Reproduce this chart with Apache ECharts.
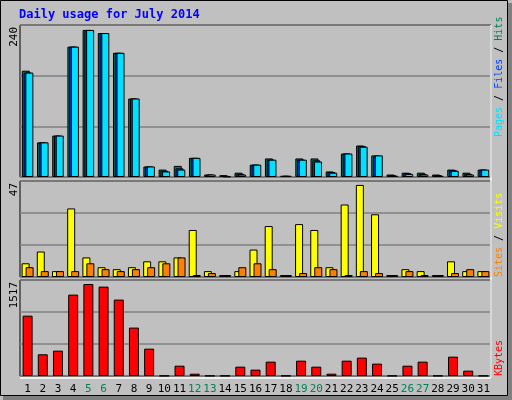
<!DOCTYPE html>
<html><head><meta charset="utf-8">
<script src="https://cdn.jsdelivr.net/npm/echarts@6/dist/echarts.min.js"></script>
<style>html,body{margin:0;padding:0;background:#c0c0c0}#c{width:512px;height:400px}</style>
</head><body><div id="c"></div>
<script>
const days = ['1','2','3','4','5','6','7','8','9','10','11','12','13','14','15','16','17','18','19','20','21','22','23','24','25','26','27','28','29','30','31'];
const weekend = ['5','6','12','13','19','20','26','27'];
const hits  = [172,56,67,211,238,233,201,127,17,12,18,31,4,3,7,20,30,2,30,30,9,38,51,35,4,7,7,4,12,7,12];
const files = [169,56,67,211,238,233,201,127,17,10,14,31,4,2,5,20,28,2,28,27,8,38,50,33,3,6,5,3,11,5,12];
const pages = [169,56,67,211,238,233,201,127,17,9,12,31,4,1,4,20,28,2,28,25,7,38,49,35,2,5,4,2,10,4,12];
const visits = [7,13,3,35,10,5,4,5,8,8,10,24,3,1,3,14,26,1,27,24,5,37,47,32,1,4,3,1,8,3,3];
const sites  = [5,3,3,3,7,4,3,4,5,7,10,1,2,1,5,7,4,1,2,5,4,1,3,2,1,3,1,1,2,4,3];
const kbytes = [995,358,418,1342,1517,1474,1260,798,451,5,170,38,5,5,154,105,237,5,253,154,38,253,303,204,5,170,237,5,319,88,5];
const maxLabels = ['240','47','1517'];

const mono = 'DejaVu Sans Mono';
const grids = [
  {left:20, right:21, top:25, height:152},
  {left:20, right:21, top:181, height:96},
  {left:20, right:21, top:280, height:96}
].map(g => Object.assign(g, {show:true, borderColor:'#000', borderWidth:1, backgroundColor:'#c0c0c0'}));

function xa(i, labels){
  return {type:'category', gridIndex:i, data:days, boundaryGap:true,
    axisLine:{show:false}, axisTick:{show:false},
    axisLabel: labels ? {show:true, fontFamily:mono, fontSize:11, margin:8, interval:0,
      color: v => weekend.includes(v) ? '#00805c' : '#000'} : {show:false}};
}
function ya(i, max){
  return {type:'value', gridIndex:i, min:0, max:max, interval:max/3,
    axisLabel:{show:false}, axisLine:{show:false}, axisTick:{show:false},
    splitLine:{show:true, lineStyle:{color:'#808080', width:1.5}}};
}
const bs = c => ({color:c, borderColor:'#000', borderWidth:1});

const opt = {
  animation:false,
  backgroundColor:'#c0c0c0',
  grid: grids,
  xAxis:[xa(0,false), xa(1,false), xa(2,true)],
  yAxis:[ya(0,246), ya(1,49), ya(2,1583)],
  series:[
    {type:'bar', name:'Hits', xAxisIndex:0, yAxisIndex:0, data:hits, barWidth:8, barGap:'-78%', itemStyle:bs('#00805c')},
    {type:'bar', name:'Files', xAxisIndex:0, yAxisIndex:0, data:files, barWidth:8, barGap:'-78%', itemStyle:bs('#0040ff')},
    {type:'bar', name:'Pages', xAxisIndex:0, yAxisIndex:0, data:pages, barWidth:8, barGap:'-78%', itemStyle:bs('#00e0ff')},
    {type:'bar', name:'Visits', xAxisIndex:1, yAxisIndex:1, data:visits, barWidth:8, barGap:'-50%', itemStyle:bs('#ffff00')},
    {type:'bar', name:'Sites', xAxisIndex:1, yAxisIndex:1, data:sites, barWidth:8, barGap:'-50%', itemStyle:bs('#ff8000')},
    {type:'bar', name:'KBytes', xAxisIndex:2, yAxisIndex:2, data:kbytes, barWidth:10, itemStyle:bs('#ff0000')}
  ],
  graphic:[
    {type:'rect', shape:{x:0.5,y:0.5,width:507,height:395}, style:{fill:'none', stroke:'#000', lineWidth:1}, z:100},
    {type:'rect', shape:{x:508,y:3,width:4,height:397}, style:{fill:'#808080'}, z:100},
    {type:'rect', shape:{x:3,y:396,width:509,height:4}, style:{fill:'#808080'}, z:100},
    {type:'line', shape:{x1:491,y1:25,x2:491,y2:377}, style:{stroke:'#fff', lineWidth:1.5}, z:100},
    {type:'line', shape:{x1:20,y1:378,x2:491,y2:378}, style:{stroke:'#fff', lineWidth:1.5}, z:100},
    {type:'text', x:19, y:15, style:{text:'Daily usage for July 2014', font:'bold 12px '+mono, fill:'#0000ff', verticalAlign:'middle'}, z:100},
    {type:'text', x:14, y:27, rotation:Math.PI/2, style:{text:maxLabels[0], font:'11px '+mono, fill:'#000', align:'right', verticalAlign:'middle'}, z:100},
    {type:'text', x:14, y:183, rotation:Math.PI/2, style:{text:maxLabels[1], font:'11px '+mono, fill:'#000', align:'right', verticalAlign:'middle'}, z:100},
    {type:'text', x:14, y:282, rotation:Math.PI/2, style:{text:maxLabels[2], font:'11px '+mono, fill:'#000', align:'right', verticalAlign:'middle'}, z:100},
    {type:'text', x:499, y:137, rotation:Math.PI/2, style:{
      text:'{p|Pages} {s|/} {f|Files} {s|/} {h|Hits}', font:'10px '+mono, align:'left', verticalAlign:'middle',
      rich:{p:{fill:'#00e0ff',font:'10px '+mono}, f:{fill:'#0040ff',font:'10px '+mono}, h:{fill:'#00805c',font:'10px '+mono}, s:{fill:'#000',font:'10px '+mono}}}, z:100},
    {type:'text', x:499, y:277, rotation:Math.PI/2, style:{
      text:'{a|Sites} {s|/} {b|Visits}', font:'10px '+mono, align:'left', verticalAlign:'middle',
      rich:{a:{fill:'#ff8000',font:'10px '+mono}, b:{fill:'#ffff00',font:'10px '+mono}, s:{fill:'#000',font:'10px '+mono}}}, z:100},
    {type:'text', x:499, y:376, rotation:Math.PI/2, style:{text:'KBytes', font:'10px '+mono, fill:'#ff0000', align:'left', verticalAlign:'middle'}, z:100}
  ]
};
echarts.init(document.getElementById('c')).setOption(opt);
</script></body></html>
